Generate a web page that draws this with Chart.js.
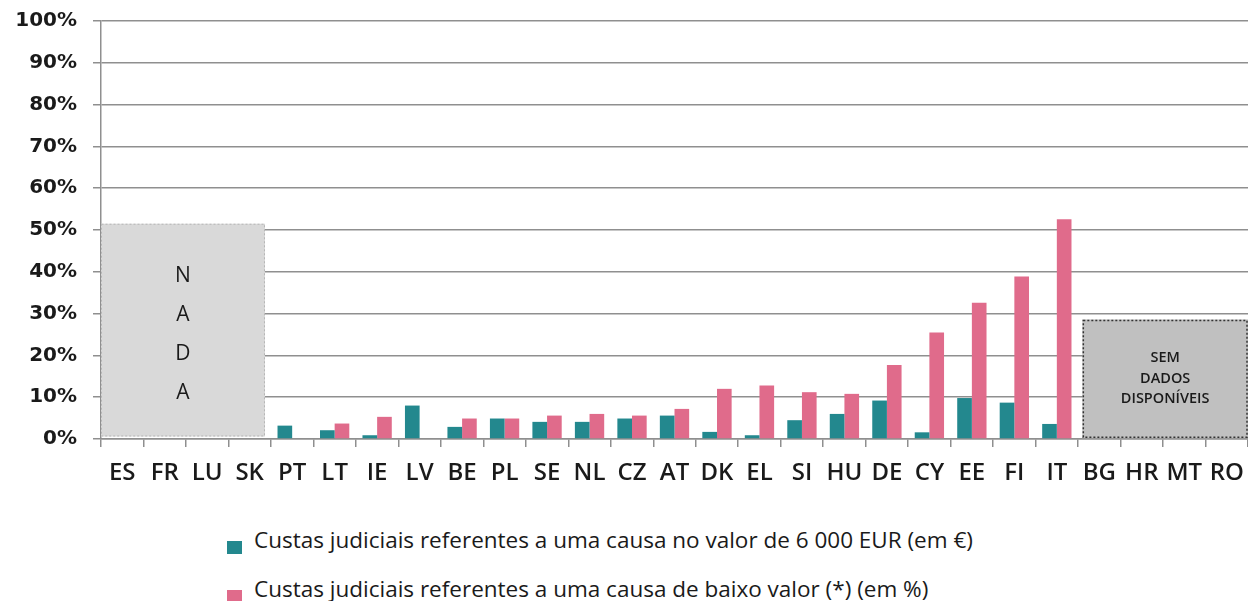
<!DOCTYPE html>
<html>
<head>
<meta charset="utf-8">
<script src="https://cdn.jsdelivr.net/npm/chart.js@4"></script>
<style>
  body { margin: 0; background: #fff; font-family: 'Open Sans', sans-serif; }
  #wrap { position: relative; width: 1248px; height: 601px; overflow: hidden; }
  #myChart { position: absolute; left: 0; top: 0; }
  #legend { position: absolute; left: 227px; top: 525px; }
  .row { position: relative; height: 49px; }
  .box { position: absolute; left: 0; top: 16px; width: 15px; height: 13px; }
  .t { position: absolute; left: 27px; top: 0; white-space: nowrap; font-size: 22.5px; line-height: 30px; color: #1a1a1a; }
</style>
</head>
<body>
<div id="wrap">
  <canvas id="myChart" width="1248" height="500"></canvas>
  <div id="legend"></div>
</div>
<script>
const categories = ['ES', 'FR', 'LU', 'SK', 'PT', 'LT', 'IE', 'LV', 'BE', 'PL', 'SE', 'NL', 'CZ', 'AT',
  'DK', 'EL', 'SI', 'HU', 'DE', 'CY', 'EE', 'FI', 'IT', 'BG', 'HR', 'MT', 'RO'];

// custas numa causa de 6 000 EUR
const costs6000 = [null, null, null, null, 3.2, 2.1, 0.9, 8.0, 2.9, 4.9, 4.1, 4.1, 4.9, 5.6,
  1.7, 0.9, 4.5, 6.0, 9.2, 1.6, 9.8, 8.7, 3.6, null, null, null, null];

// custas numa causa de baixo valor
const costsLow = [null, null, null, null, null, 3.7, 5.3, null, 4.9, 4.9, 5.6, 6.0, 5.6, 7.2,
  12.0, 12.8, 11.2, 10.8, 17.7, 25.5, 32.6, 38.9, 52.6, null, null, null, null];

const seriesNames = [
  'Custas judiciais referentes a uma causa no valor de 6 000 EUR (em €)',
  'Custas judiciais referentes a uma causa de baixo valor (*) (em %)'
];
const yTicks = [0, 10, 20, 30, 40, 50, 60, 70, 80, 90, 100];

const teal = 'rgb(35, 136, 142)';
const pink = 'rgb(224, 107, 139)';
const gridGray = '#8f8f8f';

// caixas cinzentas "NADA" e "SEM DADOS DISPONIVEIS"
const boxesPlugin = {
  id: 'boxes',
  beforeDatasetsDraw(chart) {
    const ctx = chart.ctx;
    const x = chart.scales.x;
    const y = chart.scales.y;
    const w = x.getPixelForValue(1) - x.getPixelForValue(0);

    // NADA
    let l = x.getPixelForValue(0) - w / 2;
    let r = x.getPixelForValue(3) + w * 0.36;
    let t = y.getPixelForValue(51.5);
    let b = y.getPixelForValue(0.6);
    ctx.save();
    ctx.fillStyle = '#d9d9d9';
    ctx.fillRect(l, t, r - l, b - t);
    ctx.setLineDash([2, 2]);
    ctx.strokeStyle = '#b5b5b5';
    ctx.lineWidth = 1;
    ctx.strokeRect(l + 0.5, t + 0.5, r - l - 1, b - t - 1);
    ctx.setLineDash([]);
    ctx.fillStyle = '#1a1a1a';
    ctx.font = '21px "Open Sans"';
    ctx.textAlign = 'center';
    ctx.textBaseline = 'middle';
    const letters = ['N', 'A', 'D', 'A'];
    const cy = y.getPixelForValue(25);
    letters.forEach((c, i) => {
      ctx.fillText(c, (l + r) / 2, cy + (i - 1.5) * 39.3);
    });

    // SEM DADOS
    l = x.getPixelForValue(23) - w * 0.4;
    r = chart.chartArea.right;
    t = y.getPixelForValue(28.6);
    b = y.getPixelForValue(0.2);
    ctx.fillStyle = '#c0c0c0';
    ctx.fillRect(l, t, r - l, b - t);
    ctx.setLineDash([2, 2]);
    ctx.strokeStyle = '#333';
    ctx.lineWidth = 1.5;
    ctx.strokeRect(l + 1, t + 1, r - l - 2, b - t - 2);
    ctx.setLineDash([]);
    ctx.fillStyle = '#1a1a1a';
    ctx.font = '600 14.5px "Open Sans"';
    const lines = ['SEM', 'DADOS', 'DISPONÍVEIS'];
    const cy2 = (t + b) / 2;
    lines.forEach((s, i) => {
      ctx.fillText(s, (l + r) / 2, cy2 + (i - 1) * 20.5);
    });
    ctx.restore();
  }
};

const data = {
  labels: categories,
  datasets: [{
    label: seriesNames[0],
    data: costs6000,
    backgroundColor: teal,
    barPercentage: 1,
    categoryPercentage: 0.69
  }, {
    label: seriesNames[1],
    data: costsLow,
    backgroundColor: pink,
    barPercentage: 1,
    categoryPercentage: 0.69
  }]
};

const config = {
  type: 'bar',
  data: data,
  plugins: [boxesPlugin],
  options: {
    responsive: false,
    animation: false,
    layout: { padding: { top: 21, right: 0, bottom: 0, left: 0 } },
    plugins: {
      legend: { display: false },
      tooltip: { enabled: false }
    },
    scales: {
      x: {
        grid: {
          drawOnChartArea: false,
          drawTicks: true,
          tickLength: 8,
          color: gridGray,
          lineWidth: 1.5
        },
        border: { color: gridGray, width: 1.5 },
        ticks: {
          color: '#1a1a1a',
          padding: 12,
          font: { family: 'Open Sans', size: 24, weight: '600' }
        },
        afterFit(scale) {
          scale.height = 61;
          scale.paddingLeft = 0;
          scale.paddingRight = 0;
        }
      },
      y: {
        min: 0,
        max: 100,
        afterBuildTicks(scale) { scale.ticks = yTicks.map(v => ({ value: v })); },
        grid: {
          color: gridGray,
          lineWidth: 1.5,
          tickLength: 8
        },
        border: { color: gridGray, width: 1.5 },
        ticks: {
          color: '#1a1a1a',
          padding: 16,
          font: { family: 'DejaVu Sans', size: 20, weight: 'bold' },
          callback: v => v + '%'
        },
        afterFit(scale) {
          scale.width = 101;
          scale.paddingTop = 0;
          scale.paddingBottom = 0;
        }
      }
    }
  }
};

const myChart = new Chart(document.getElementById('myChart'), config);

// legenda em duas linhas
const legend = document.getElementById('legend');
data.datasets.forEach(ds => {
  const row = document.createElement('div');
  row.className = 'row';
  const box = document.createElement('div');
  box.className = 'box';
  box.style.background = ds.backgroundColor;
  const t = document.createElement('span');
  t.className = 't';
  t.textContent = ds.label;
  row.appendChild(box);
  row.appendChild(t);
  legend.appendChild(row);
});
</script>
</body>
</html>
